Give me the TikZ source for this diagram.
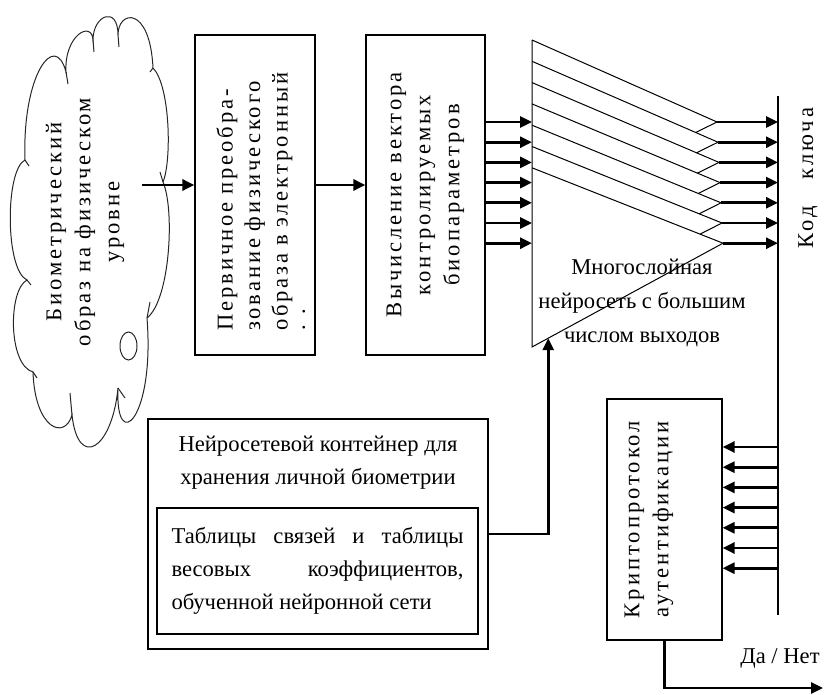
\documentclass[tikz,border=0pt]{standalone}
\usepackage{fontspec}
\setmainfont{Liberation Serif}
\usetikzlibrary{arrows.meta, calc}

\begin{document}
\begin{tikzpicture}[x = 0.5pt, y = 0.5pt,
	box/.style = {draw, line width = 0.6pt, inner sep = 0pt},
	spaced/.style = {font = {\fontsize{11.3}{14.5}\selectfont\addfontfeature{LetterSpace = 13}}},
	plain/.style = {font = {\fontsize{11.3}{16.5}\selectfont}},
	arr/.style = {line width = 1.4pt, -{Triangle[length = 6pt, width = 5.5pt]}},
	netline/.style = {line width = 0.5pt},
	keyline/.style = {line width = 1.2pt},
	cloudline/.style = {line width = 0.5pt, black!85}]

	\useasboundingbox (0,0) rectangle (825,-695);

	\draw[cloudline] (25,-160) .. controls (22,-75) and (55,-30) .. (66,-72)
		.. controls (64,-35) and (92,-20) .. (93,-40)
		.. controls (93,-15) and (118,-5) .. (118,-35)
		.. controls (118,-10) and (150,-5) .. (153,-68)
		.. controls (170,-85) and (172,-160) .. (163,-182)
		.. controls (175,-210) and (170,-300) .. (147,-318)
		.. controls (155,-420) and (115,-455) .. (118,-388)
		.. controls (112,-450) and (78,-470) .. (72,-415)
		.. controls (65,-440) and (35,-430) .. (33,-372)
		.. controls (8,-365) and (8,-290) .. (27,-280)
		.. controls (5,-270) and (5,-170) .. (25,-160) -- cycle;
	\draw[cloudline] (128.5,-346) ellipse [x radius = 8.5, y radius = 14];
	\draw[cloudline] (66,-72) -- (68,-84) (93,-40) -- (94,-52) (118,-35) -- (119,-47)
		(153,-68) -- (150,-72) (25,-160) -- (29,-166) (27,-280) -- (31,-285)
		(33,-372) -- (37,-378) (72,-415) -- (70,-393) (118,-388) -- (125,-398)
		(147,-318) -- (150,-302) (163,-182) -- (160,-172) ;

	\draw (85,-222) node[spaced, rotate = 90, align = center] (bio) {Биометрический\\образ на физическом\\уровне} ;

	\draw (255,-195) node[box, spaced, rotate = 90, minimum width = 160pt, minimum height = 60pt, text width = 136pt, text height = 14pt, align = left, font = {\fontsize{11.3}{13.7}\selectfont\addfontfeature{LetterSpace = 13}}] (prim) {Первичное преобра-\\зование физического\\образа в электронный\\[-5pt]. .} ;

	\draw (425.5,-195) node[box, spaced, rotate = 90, minimum width = 160pt, minimum height = 59.5pt, align = center] (calc) {Вычисление вектора\\контролируемых\\биопараметров} ;

	\coordinate (bioout) at (142,-185) ;
	\draw[arr] (bioout) -- (bioout -| prim.north) ;
	\draw[arr] (prim.south |- bioout) -- (calc.north |- bioout) ;

	\foreach \i in {0,...,6} {
		\coordinate (s\i) at (532,{-40-21.3*\i}) ;
		\coordinate (t\i) at ({717+\i},{-122-20.2*\i}) ;
		\draw[netline] (s\i) -- (t\i) ;
	}
	\foreach \i [evaluate = \i as \j using int(\i+1)] in {0,...,5}
		\draw[netline] (t\i) -- ($(s\j)!0.88!(t\j)$) ;
	\coordinate (netbot) at (532,-347) ;
	\draw[netline] (t6) -- (netbot) -- (s0) ;

	\draw (642,-303) node[plain, align = center, font = {\fontsize{11.3}{16.8}\selectfont}] (net) {Многослойная\\нейросеть с большим\\числом выходов} ;

	\foreach \i in {0,...,6}
		\draw[arr] (calc.south |- t\i) -- (s0 |- t\i) ;

	\coordinate (keytop) at (778,-96) ;
	\coordinate (keybot) at (778,-615) ;
	\draw[keyline] (keytop) -- (keybot) ;
	\foreach \i in {0,...,6}
		\draw[arr] (t\i) -- (keytop |- t\i) ;

	\draw (808,-178) node[spaced, rotate = 90] (key) {Код \hspace{5pt} ключа} ;

	\draw (664.5,-519.5) node[box, spaced, rotate = 90, minimum width = 120.5pt, minimum height = 57.5pt, text depth = 18pt, align = center] (crypt) {Криптопротокол\\аутентификации} ;
	\foreach \k in {0,...,6} {
		\coordinate (c\k) at (778,{-447-20.2*\k}) ;
		\draw[arr] (c\k) -- (crypt.south |- c\k) ;
	}

	\coordinate (answerend) at (823,-688) ;
	\draw[arr] (crypt.west) |- (answerend) ;
	\draw (780,-658) node[plain] (answer) {Да / Нет} ;

	\draw (318,-534) node[box, minimum width = 170pt, minimum height = 115pt] (store) {} ;
	\draw (318,-463) node[plain, align = center] (storename) {Нейросетевой контейнер для\\хранения личной биометрии} ;
	\draw (317.5,-571) node[box, plain, minimum width = 160.5pt, minimum height = 63pt, text width = 146pt, align = justify] (tables) {\hbadness=10000 Таблицы связей и таблицы\linebreak весовых коэффициентов,\linebreak обученной нейронной сети} ;

	\coordinate (netin) at ($(netbot)!0.085!(t6)$) ;
	\draw[arr] (store.east) -| (netin) ;
\end{tikzpicture}
\end{document}
